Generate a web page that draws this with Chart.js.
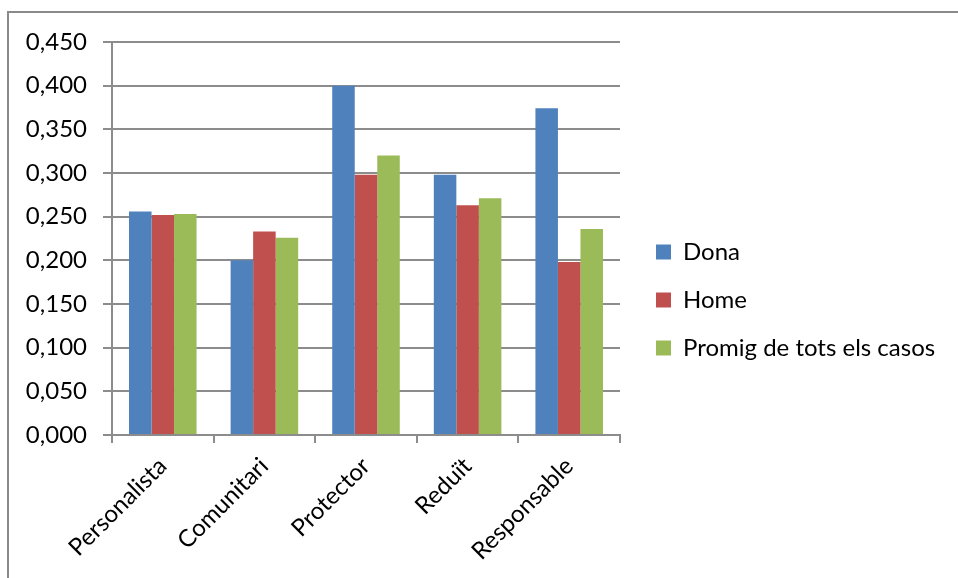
<!DOCTYPE html>
<html>
<head>
<meta charset="utf-8">
<script src="https://cdn.jsdelivr.net/npm/chart.js@4.4.1/dist/chart.umd.min.js"></script>
<style>
  html, body { margin: 0; padding: 0; background: #fff; overflow: hidden; }
  #frame {
    position: absolute; left: 7px; top: 11px; width: 1000px; height: 1000px;
    border-top: 2px solid #8a8a8a; border-left: 2px solid #8a8a8a;
  }
  #wrap { position: absolute; left: 0; top: 0; width: 958px; height: 578px; }
</style>
</head>
<body>
<div id="frame"></div>
<div id="wrap"><canvas id="chart" width="958" height="578"></canvas></div>
<script>
// categories and series
const categories = ["Personalista", "Comunitari", "Protector", "Reduït", "Responsable"];
const dona   = [0.256, 0.200, 0.400, 0.298, 0.374];
const home   = [0.252, 0.233, 0.298, 0.263, 0.198];
const promig = [0.253, 0.226, 0.320, 0.271, 0.236];
const seriesNames = ["Dona", "Home", "Promig de tots els casos"];
const yTicks = [0, 0.05, 0.10, 0.15, 0.20, 0.25, 0.30, 0.35, 0.40, 0.45];

const FONT = "Lato";
const GRID = "#8c8c8c";

// keep the legend column at a fixed width and nudge it into place
const legendPlace = {
  id: "legendPlace",
  afterInit(chart) {
    const lg = chart.legend;
    const fit = lg.fit.bind(lg);
    lg.fit = function () { fit(); this.width = 338; };
  },
  afterLayout(chart) {
    const lg = chart.legend;
    lg.left += 12; lg.right += 12;
    lg.top -= 10; lg.bottom -= 10;
  }
};

new Chart(document.getElementById("chart"), {
  type: "bar",
  data: {
    labels: categories,
    datasets: [
      { label: seriesNames[0], data: dona,   backgroundColor: "#4F81BD" },
      { label: seriesNames[1], data: home,   backgroundColor: "#C0504D" },
      { label: seriesNames[2], data: promig, backgroundColor: "#9BBB59" }
    ]
  },
  options: {
    responsive: false,
    animation: false,
    layout: { padding: { top: 42, left: 0, right: 0, bottom: 0 } },
    datasets: { bar: { categoryPercentage: 0.665, barPercentage: 1.0 } },
    plugins: {
      tooltip: { enabled: false },
      legend: {
        position: "right",
        labels: {
          boxWidth: 15, boxHeight: 15, padding: 24,
          color: "#000", font: { family: FONT, size: 24 }
        }
      }
    },
    scales: {
      x: {
        grid: { drawOnChartArea: false, drawTicks: true, tickLength: 8, color: GRID, lineWidth: 2 },
        border: { color: GRID, width: 2 },
        ticks: { color: "#000", font: { family: FONT, size: 24 }, minRotation: 45, maxRotation: 45, padding: 9 },
        afterFit(s) { s.height = 143; }
      },
      y: {
        min: 0, max: 0.45,
        afterBuildTicks(s) { s.ticks = yTicks.map(v => ({ value: v })); },
        grid: { color: GRID, lineWidth: 2, tickLength: 9 },
        border: { color: GRID, width: 2 },
        ticks: {
          color: "#000", font: { family: FONT, size: 24 }, padding: 16,
          callback: v => (Math.round(v * 1000) / 1000).toFixed(3).replace(".", ",")
        },
        afterFit(s) { s.width = 112; }
      }
    }
  },
  plugins: [legendPlace]
});
</script>
</body>
</html>
